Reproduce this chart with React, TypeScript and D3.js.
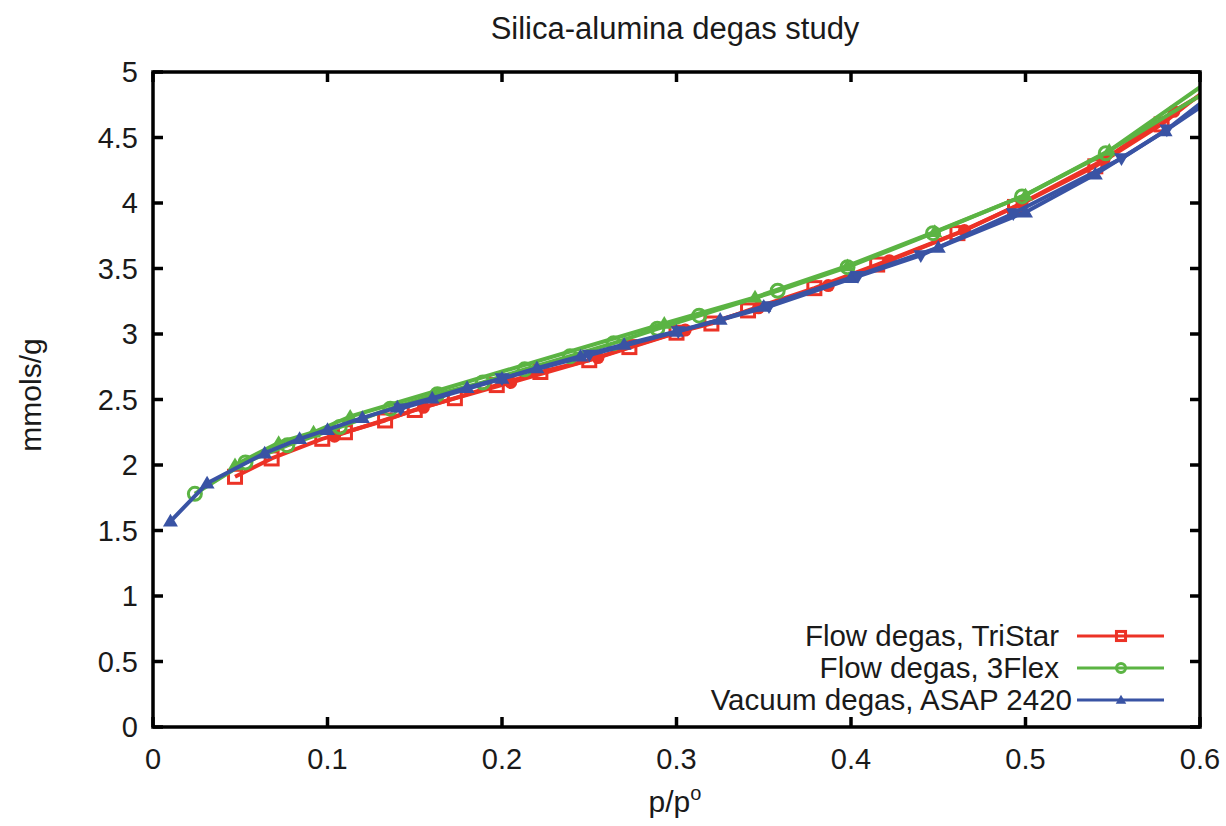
import React from "react";
import * as d3 from "d3";

const xTicks = [0, 0.1, 0.2, 0.3, 0.4, 0.5, 0.6];
const yTicks = [0, 0.5, 1, 1.5, 2, 2.5, 3, 3.5, 4, 4.5, 5];
const xTickLabels = ["0", "0.1", "0.2", "0.3", "0.4", "0.5", "0.6"];
const yTickLabels = ["0", "0.5", "1", "1.5", "2", "2.5", "3", "3.5", "4", "4.5", "5"];

const seriesNames = ["Flow degas, TriStar", "Flow degas, 3Flex", "Vacuum degas, ASAP 2420"];
const seriesColors = ["#ec3226", "#5bb443", "#3953a4"];

const redAdsX = [0.047, 0.068, 0.097, 0.110, 0.133, 0.150, 0.173, 0.197, 0.222, 0.250, 0.273, 0.300, 0.320, 0.341, 0.379, 0.415, 0.461, 0.494, 0.540, 0.578, 0.605];
const redAdsY = [1.91, 2.05, 2.20, 2.25, 2.34, 2.42, 2.51, 2.61, 2.71, 2.80, 2.90, 3.01, 3.08, 3.18, 3.35, 3.53, 3.77, 3.97, 4.28, 4.60, 4.88];
const redDesX = [0.605, 0.585, 0.545, 0.498, 0.465, 0.422, 0.387, 0.347, 0.305, 0.255, 0.205, 0.155, 0.104];
const redDesY = [4.86, 4.70, 4.33, 4.00, 3.79, 3.56, 3.37, 3.20, 3.03, 2.82, 2.63, 2.44, 2.22];

const greenAdsX = [0.024, 0.053, 0.077, 0.107, 0.136, 0.163, 0.189, 0.213, 0.239, 0.264, 0.289, 0.313, 0.358, 0.398, 0.447, 0.498, 0.546, 0.605];
const greenAdsY = [1.78, 2.02, 2.15, 2.29, 2.43, 2.54, 2.63, 2.73, 2.83, 2.93, 3.04, 3.14, 3.33, 3.51, 3.77, 4.05, 4.38, 4.93];
const greenDesX = [0.605, 0.548, 0.500, 0.448, 0.398, 0.345, 0.293, 0.113, 0.092, 0.072, 0.047];
const greenDesY = [4.86, 4.40, 4.06, 3.78, 3.52, 3.28, 3.08, 2.37, 2.25, 2.17, 2.00];

const blueAdsX = [0.010, 0.031, 0.064, 0.084, 0.100, 0.120, 0.140, 0.160, 0.180, 0.200, 0.220, 0.245, 0.270, 0.300, 0.325, 0.350, 0.400, 0.450, 0.500, 0.540, 0.580, 0.610];
const blueAdsY = [1.57, 1.86, 2.09, 2.20, 2.27, 2.36, 2.44, 2.51, 2.59, 2.66, 2.74, 2.83, 2.92, 3.02, 3.11, 3.21, 3.43, 3.66, 3.93, 4.22, 4.55, 4.82];
const blueDesX = [0.610, 0.581, 0.555, 0.493, 0.440, 0.404, 0.353, 0.301, 0.250, 0.200, 0.142];
const blueDesY = [4.86, 4.56, 4.34, 3.92, 3.60, 3.44, 3.21, 3.02, 2.84, 2.66, 2.43];

const W = 1226, H = 826;
const L = 153, R = 1200, T = 72, B = 727;
const FONT = "'Liberation Sans', Arial, Helvetica, sans-serif";

const x = d3.scaleLinear().domain([0, 0.6]).range([L, R]);
const y = d3.scaleLinear().domain([0, 5]).range([B, T]);

type Pt = [number, number];
const zip = (xs: number[], ys: number[]): Pt[] => xs.map((v, i) => [v, ys[i]]);

const line = d3.line<Pt>().x(d => x(d[0])).y(d => y(d[1]));

function Marker({ kind, cx, cy, color, s = 1 }: { kind: string; cx: number; cy: number; color: string; s?: number }) {
  if (kind === "square") {
    const h = 6.5 * s;
    return <rect x={cx - h} y={cy - h} width={2 * h} height={2 * h} fill="none" stroke={color} strokeWidth={3} />;
  }
  if (kind === "circle") {
    return <circle cx={cx} cy={cy} r={6.5 * s} fill="none" stroke={color} strokeWidth={3} />;
  }
  if (kind === "fcircle") {
    return <circle cx={cx} cy={cy} r={6.5 * s} fill={color} />;
  }
  if (kind === "tri") {
    const h = 7.5 * s;
    return <path d={`M${cx},${cy - h} L${cx + h},${cy + h * 0.7} L${cx - h},${cy + h * 0.7} Z`} fill={color} />;
  }
  if (kind === "itri") {
    const h = 7.5 * s;
    return <path d={`M${cx},${cy + h} L${cx + h},${cy - h * 0.7} L${cx - h},${cy - h * 0.7} Z`} fill={color} />;
  }
  return null;
}

const series = [
  { color: seriesColors[0], ads: zip(redAdsX, redAdsY), des: zip(redDesX, redDesY), mA: "square", mD: "fcircle" },
  { color: seriesColors[1], ads: zip(greenAdsX, greenAdsY), des: zip(greenDesX, greenDesY), mA: "circle", mD: "tri" },
  { color: seriesColors[2], ads: zip(blueAdsX, blueAdsY), des: zip(blueDesX, blueDesY), mA: "tri", mD: "itri" },
];

export default function App() {
  const legendEnds = [1059, 1059, 1072];
  const legendY = [636, 668, 700];
  return (
    <svg width={W} height={H} style={{ position: "absolute", left: 0, top: 0, background: "#fff" }} fontFamily={FONT}>
      <defs>
        <clipPath id="plotclip">
          <rect x={L} y={T} width={R - L} height={B - T} />
        </clipPath>
      </defs>
      <rect x={0} y={0} width={W} height={H} fill="#fff" />
      <text x={675} y={39} textAnchor="middle" fontSize={31} fill="#1a1a1a">Silica-alumina degas study</text>

      {/* ticks */}
      {xTicks.map((t, i) => (
        <g key={"xt" + i}>
          <line x1={x(t)} x2={x(t)} y1={B} y2={B - 10} stroke="#000" strokeWidth={3.5} />
          <line x1={x(t)} x2={x(t)} y1={T} y2={T + 10} stroke="#000" strokeWidth={3.5} />
          <text x={x(t)} y={769} textAnchor="middle" fontSize={29} fill="#1a1a1a">{xTickLabels[i]}</text>
        </g>
      ))}
      {yTicks.map((t, i) => (
        <g key={"yt" + i}>
          <line x1={L} x2={L + 10} y1={y(t)} y2={y(t)} stroke="#000" strokeWidth={3.5} />
          <line x1={R} x2={R - 10} y1={y(t)} y2={y(t)} stroke="#000" strokeWidth={3.5} />
          <text x={138} y={y(t) + 10} textAnchor="end" fontSize={29} fill="#1a1a1a">{yTickLabels[i]}</text>
        </g>
      ))}

      {/* data */}
      <g clipPath="url(#plotclip)">
        {series.map((s, si) => (
          <g key={"s" + si}>
            <path d={line(s.ads) || ""} fill="none" stroke={s.color} strokeWidth={4} strokeLinejoin="round" />
            <path d={line(s.des) || ""} fill="none" stroke={s.color} strokeWidth={4} strokeLinejoin="round" />
            {s.ads.map((p, i) => <Marker key={"a" + i} kind={s.mA} cx={x(p[0])} cy={y(p[1])} color={s.color} />)}
            {s.des.map((p, i) => <Marker key={"d" + i} kind={s.mD} cx={x(p[0])} cy={y(p[1])} color={s.color} />)}
          </g>
        ))}
      </g>

      {/* frame */}
      <rect x={L} y={T} width={R - L} height={B - T} fill="none" stroke="#000" strokeWidth={3.5} />

      {/* legend */}
      {series.map((s, si) => (
        <g key={"lg" + si}>
          <text x={legendEnds[si]} y={legendY[si] + 10} textAnchor="end" fontSize={29.5} fill="#1a1a1a">{seriesNames[si]}</text>
          <line x1={1077} x2={1164} y1={legendY[si]} y2={legendY[si]} stroke={s.color} strokeWidth={3} />
          <Marker kind={s.mA} cx={1121} cy={legendY[si]} color={s.color} s={0.7} />
        </g>
      ))}

      {/* axis labels */}
      <text x={675} y={812} textAnchor="middle" fontSize={30} fill="#1a1a1a">
        p/p<tspan dy={-12} fontSize={20}>o</tspan>
      </text>
      <text transform={`translate(41,395) rotate(-90)`} textAnchor="middle" fontSize={30} fill="#1a1a1a">mmols/g</text>
    </svg>
  );
}
